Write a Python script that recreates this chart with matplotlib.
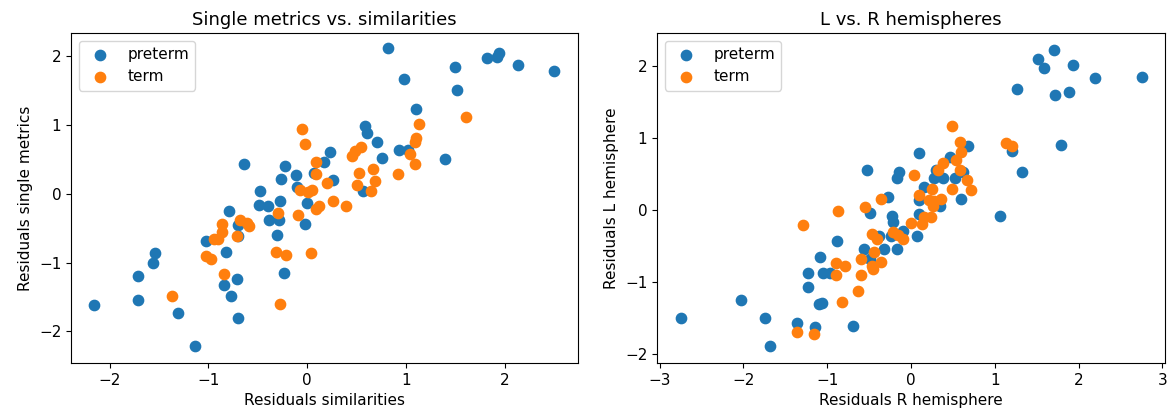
import matplotlib
matplotlib.use("Agg")
import matplotlib.pyplot as plt

# ---- Left panel: Single metrics vs. similarities ----
left_pre_x = [-2.16, -1.71, -1.71, -1.54, -1.56, -1.31, -1.14, -1.02, -0.82, -0.79,
              -0.70, -0.70, -0.84, -0.71, -0.77, -0.70, -0.49, -0.40, -0.39, -0.29,
              -0.28, -0.31, -0.23, -0.02, 0.00, -0.64, -0.22, -0.27, -0.11, -0.48,
              -0.10, 0.07, 0.17, 0.23, 1.52, 1.10, 0.58, 0.60, 0.71, 0.76,
              0.93, 1.02, 1.39, 0.56, 0.26, 0.82, 0.98, 1.50, 1.82, 1.92,
              1.94, 2.13, 2.50]
left_pre_y = [-1.62, -1.20, -1.55, -0.86, -1.00, -1.73, -2.21, -0.69, -0.84, -0.25,
              -0.45, -0.61, -1.33, -1.24, -1.48, -1.81, -0.16, -0.18, -0.38, -0.38,
              -0.11, -0.60, -1.15, -0.44, -0.13, 0.44, 0.41, 0.22, 0.28, 0.04,
              0.10, 0.30, 0.47, 0.61, 1.51, 1.23, 0.98, 0.88, 0.75, 0.52,
              0.64, 0.64, 0.50, 0.04, 0.20, 2.12, 1.67, 1.85, 1.98, 1.99,
              2.05, 1.87, 1.79]
left_term_x = [-1.37, -1.02, -0.97, -0.94, -0.90, -0.86, -0.86, -0.84, -0.71, -0.68,
               -0.61, -0.59, -0.32, -0.30, -0.28, -0.21, -0.09, 0.04, 0.09, 0.12,
               -0.05, -0.02, -0.07, 0.01, 0.05, 0.09, 0.09, 0.20, 1.13, 1.10,
               1.09, 0.54, 0.48, 0.45, 1.04, 1.09, 0.92, 0.67, 0.52, 0.69,
               0.50, 0.65, 0.26, 0.39, 1.61]
left_term_y = [-1.48, -0.90, -0.94, -0.65, -0.65, -0.56, -0.44, -1.17, -0.61, -0.38,
               -0.42, -0.47, -0.84, -0.28, -1.60, -0.89, -0.31, -0.86, -0.22, -0.17,
               0.95, 0.72, 0.06, 0.02, 0.05, 0.46, 0.29, 0.16, 1.01, 0.81,
               0.75, 0.68, 0.62, 0.55, 0.58, 0.44, 0.29, 0.36, 0.31, 0.18,
               0.13, 0.04, -0.11, -0.17, 1.12]

# ---- Right panel: L vs. R hemispheres ----
right_pre_x = [-2.74, -2.03, -1.74, -1.68, -1.36, -1.14, -0.69, -1.23, -1.23, -1.10,
               -1.06, -1.09, -1.05, -0.97, -0.88, -0.56, -0.49, -0.32, -0.38, -0.49,
               -0.23, -0.21, -0.27, -0.53, -0.14, -0.17, -0.17, -0.24, -0.09, 0.07,
               0.09, 0.35, 0.68, 0.09, 0.47, 0.30, 0.28, 0.38, 0.52, 0.62,
               0.60, 0.15, 0.10, 1.06, 1.70, 1.51, 1.59, 1.93, 2.19, 2.75,
               1.27, 1.72, 1.88, 1.79, 1.33, 1.21]
right_pre_y = [-1.51, -1.26, -1.51, -1.89, -1.57, -1.63, -1.62, -1.07, -0.88, -1.31,
               -1.29, -0.66, -0.88, -0.88, -0.44, -0.55, -0.69, -0.55, -0.37, -0.04,
               -0.08, -0.17, 0.18, 0.55, 0.53, 0.44, -0.55, -0.37, -0.29, -0.37,
               -0.06, 0.06, 0.89, 0.79, 0.73, 0.56, 0.44, 0.44, 0.44, 0.53,
               0.15, 0.32, 0.14, -0.08, 2.23, 2.10, 1.98, 2.02, 1.83, 1.85,
               1.68, 1.60, 1.64, 0.90, 0.52, 0.82]
right_term_x = [-1.36, -1.16, -1.29, -0.87, -0.90, -0.79, -0.89, -0.82, -0.63, -0.60,
                -0.60, -0.46, -0.45, -0.36, -0.44, -0.46, -0.40, -0.55, -0.36, -0.21,
                -0.16, -0.10, 0.00, 0.13, 0.16, 0.24, 0.49, 0.59, 0.60, 0.54,
                0.38, 0.32, 0.59, 0.03, 0.67, 0.71, 0.49, 0.25, 0.10, 0.22,
                0.28, 0.36, 0.26, 1.13, 1.21]
right_term_y = [-1.70, -1.73, -0.21, -0.02, -0.74, -0.78, -0.90, -1.28, -1.13, -0.90,
                -0.68, -0.78, -0.82, -0.72, -0.59, -0.34, -0.41, 0.04, 0.15, -0.31,
                -0.35, -0.41, -0.18, -0.19, -0.10, -0.10, 1.16, 0.95, 0.80, 0.69,
                0.65, 0.55, 0.55, 0.49, 0.41, 0.28, 0.29, 0.29, 0.21, 0.14,
                0.12, 0.15, 0.06, 0.93, 0.89]

titles = ["Single metrics vs. similarities", "L vs. R hemispheres"]
xlabels = ["Residuals similarities", "Residuals R hemisphere"]
ylabels = ["Residuals single metrics", "Residuals L hemisphere"]
series_labels = ["preterm", "term"]

plt.rcParams['font.size'] = 11
fig = plt.figure(figsize=(11.72, 4.16), dpi=100)
W, H = 1172, 416
ax1 = fig.add_axes([71 / W, (H - 363) / H, 507 / W, 330 / H])
ax2 = fig.add_axes([657 / W, (H - 363) / H, 508 / W, 330 / H])

S = 55
ax1.scatter(left_pre_x, left_pre_y, s=S, color='#1f77b4', label=series_labels[0])
ax1.scatter(left_term_x, left_term_y, s=S, color='#ff7f0e', label=series_labels[1])
ax2.scatter(right_pre_x, right_pre_y, s=S, color='#1f77b4', label=series_labels[0])
ax2.scatter(right_term_x, right_term_y, s=S, color='#ff7f0e', label=series_labels[1])

ax1.set_xlim(-2.39, 2.74)
ax1.set_ylim(-2.46, 2.34)
ax1.set_xticks([-2, -1, 0, 1, 2])
ax1.set_yticks([-2, -1, 0, 1, 2])
ax2.set_xlim(-3.03, 3.03)
ax2.set_ylim(-2.13, 2.46)
ax2.set_xticks([-3, -2, -1, 0, 1, 2, 3])
ax2.set_yticks([-2, -1, 0, 1, 2])

for ax, t, xl, yl in zip([ax1, ax2], titles, xlabels, ylabels):
    ax.set_title(t, fontsize=13)
    ax.set_xlabel(xl)
    ax.set_ylabel(yl)
    ax.legend(loc='upper left')

fig.savefig("out.png", dpi=100)
